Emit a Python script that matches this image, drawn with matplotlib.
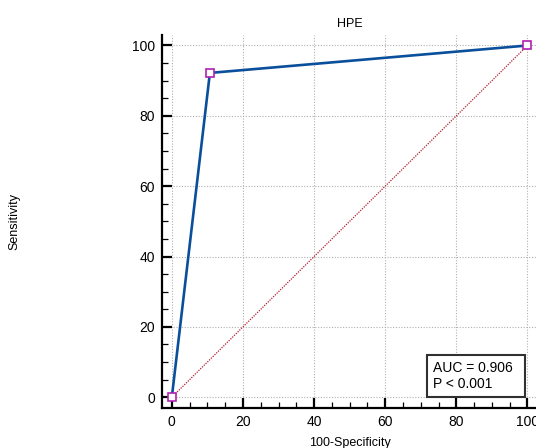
import matplotlib
matplotlib.use('Agg')
import matplotlib.pyplot as plt
from matplotlib.ticker import MultipleLocator
from matplotlib.patches import Rectangle

# ROC points
fpr = [0, 10.7, 100]
tpr = [0, 92.2, 100]
diag = [0, 100]
titulo = "HPE"
texto_auc = "AUC = 0.906\nP < 0.001"

plt.rcParams['font.family'] = ['Liberation Sans', 'DejaVu Sans']

fig = plt.figure(figsize=(5.36, 4.48), dpi=100)
ax = fig.add_axes([0.302, 0.089, 0.702, 0.833])

ax.plot(diag, diag, color="#b02030", linestyle=(0, (1, 1)), linewidth=0.9, zorder=2)
ax.plot(fpr, tpr, color="#0a4f9c", linewidth=1.9, zorder=3,
        marker="s", markersize=6, markerfacecolor="white",
        markeredgecolor="#b020b0", markeredgewidth=1.2)

ax.set_xlim(-2.8, 103)
ax.set_ylim(-3.1, 103)
ax.xaxis.set_major_locator(MultipleLocator(20))
ax.yaxis.set_major_locator(MultipleLocator(20))
ax.xaxis.set_minor_locator(MultipleLocator(5))
ax.yaxis.set_minor_locator(MultipleLocator(5))

ax.grid(True, which="major", color="#b0b0b0", linestyle=(0, (1, 1.5)), linewidth=0.8)
ax.set_axisbelow(True)

for s in ["top", "right"]:
    ax.spines[s].set_visible(False)
for s in ["left", "bottom"]:
    ax.spines[s].set_linewidth(1.6)

ax.tick_params(which="major", direction="in", length=7, width=1.6, labelsize=10, pad=5)
ax.tick_params(which="minor", direction="in", length=4, width=0.9)

ax.set_title(titulo, fontsize=9, pad=6)
ax.set_xlabel("100-Specificity", fontsize=9, labelpad=6)
ax.set_ylabel("Sensitivity", fontsize=9, labelpad=0)
ax.yaxis.set_label_coords(-0.375, 0.5)

# caixa do AUC (coordenadas de eixo)
caixa = Rectangle((0.705, 0.029), 0.261, 0.113, transform=ax.transAxes,
                  facecolor="white", edgecolor="#303030", linewidth=1.5, zorder=5)
ax.add_patch(caixa)
ax.text(0.721, 0.086, texto_auc, transform=ax.transAxes, fontsize=10,
        linespacing=1.1, va="center", ha="left", zorder=6)

fig.savefig("out.png", dpi=100)
